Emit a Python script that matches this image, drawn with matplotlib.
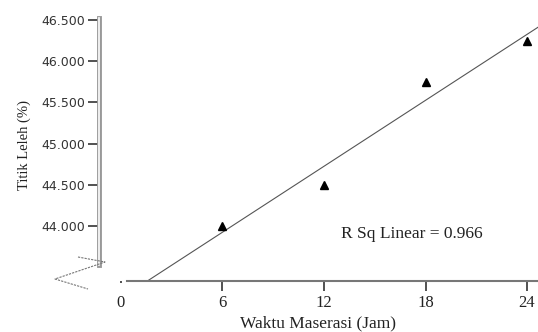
import numpy as np
import matplotlib.pyplot as plt
from matplotlib.lines import Line2D

# Data
waktu = np.array([6, 12, 18, 24])                      # Waktu Maserasi (Jam)
titik_leleh = np.array([44.00, 44.50, 45.75, 46.25])   # Titik Leleh (%)
xticks = [0, 6, 12, 18, 24]
yticks = [44.0, 44.5, 45.0, 45.5, 46.0, 46.5]

# regresi linear
slope, intercept = np.polyfit(waktu, titik_leleh, 1)
r2 = np.corrcoef(waktu, titik_leleh)[0, 1] ** 2

W, H = 538, 332
fig = plt.figure(figsize=(W / 100, H / 100), dpi=100)
ax = fig.add_axes([99 / W, (H - 281) / H, (W - 99) / W, (281 - 10) / H])
xmin, xmax = -1.3, 24.65
ymin, ymax = 43.333, 46.621
ax.set_xlim(xmin, xmax)
ax.set_ylim(ymin, ymax)

xx = np.array([xmin, xmax])
ax.plot(xx, intercept + slope * xx, color='#555555', lw=0.8)
ax.plot(waktu, titik_leleh, '^', color='black', ms=6)

ax.text(13.0, 43.85, f'R Sq Linear = {r2:.3f}', family='Liberation Serif',
        fontsize=12.5, color='#222222')

# sumbu
for s in ['top', 'right']:
    ax.spines[s].set_visible(False)
ax.spines['left'].set_bounds(43.527, 46.524)
ax.spines['left'].set_color('#999999')
ax.spines['left'].set_linewidth(3.5)
ax.plot([xmin, xmin], [43.527, 46.524], color='white', lw=1.2, clip_on=False, zorder=5)
ax.spines['bottom'].set_bounds(0.35, xmax)
ax.spines['bottom'].set_color('#777777')
ax.spines['bottom'].set_linewidth(1.5)

ax.set_yticks(yticks)
ax.set_yticklabels([f'{v:.3f}' for v in yticks], family='DejaVu Sans',
                   fontsize=9, color='#333333')
ax.tick_params(axis='y', length=8, width=1.2, color='#333333', pad=2)
ax.set_xticks(xticks)
ax.set_xticklabels([str(v) for v in xticks], family='Liberation Serif',
                   fontsize=12, color='#222222')
ax.tick_params(axis='x', length=7, width=1.2, color='#333333', pad=3)
ax.xaxis.get_major_ticks()[0].tick1line.set_markersize(1.5)

ax.set_xlabel('Waktu Maserasi (Jam)', family='Liberation Serif', fontsize=12.5,
              color='#222222', labelpad=3)
ax.set_ylabel('Titik Leleh (%)', family='Liberation Serif', fontsize=10.5,
              color='#222222')
ax.yaxis.set_label_coords(-0.155, 0.5)

# tanda patah sumbu
px = [78, 105, 55, 88]
py = [257, 262, 279, 289]
fig.add_artist(Line2D([p / W for p in px], [1 - p / H for p in py],
                      transform=fig.transFigure, color='#777777', lw=0.8, ls=(0, (2, 1))))

fig.savefig('out.png', dpi=100)
